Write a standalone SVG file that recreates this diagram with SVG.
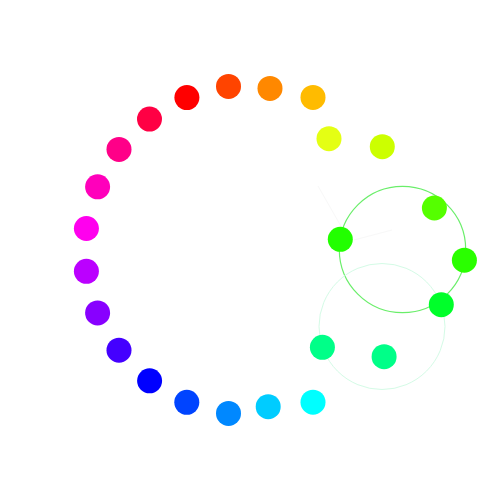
<svg xmlns="http://www.w3.org/2000/svg" width="500" height="500" viewBox="0 0 500 500">
<style>
.dot{stroke:none}
.ring{fill:none}
</style>
<rect width="500" height="500" fill="#ffffff"/>
<g id="connectors">
<circle class="ring" cx="402.5" cy="249.5" r="63.2" stroke="#6aee6a" stroke-width="1.2"/>
<circle class="ring" cx="382" cy="326.5" r="63" stroke="#d4fbe6" stroke-width="1"/>
<path d="M318,186 L342,228 M354,240 L392,230" stroke="#f8f8f8" stroke-width="1" fill="none"/>
</g>
<g id="n0"><circle class="dot" cx="186.9" cy="97.6" r="12.5" fill="#ff0000"/></g>
<g id="n1"><circle class="dot" cx="228.5" cy="86.4" r="12.5" fill="#ff4400"/></g>
<g id="n2"><circle class="dot" cx="270" cy="88.4" r="12.5" fill="#ff8800"/></g>
<g id="n3"><circle class="dot" cx="313" cy="97.4" r="12.5" fill="#ffbb00"/></g>
<g id="n4"><circle class="dot" cx="329" cy="138.7" r="12.5" fill="#e4ff14"/></g>
<g id="n5"><circle class="dot" cx="382.3" cy="146.7" r="12.5" fill="#ccff00"/></g>
<g id="n6"><circle class="dot" cx="434.4" cy="208" r="12.5" fill="#55ff00"/></g>
<g id="n7"><circle class="dot" cx="340.3" cy="239.3" r="12.5" fill="#22ff00"/></g>
<g id="n8"><circle class="dot" cx="464.4" cy="260.2" r="12.5" fill="#2aff00"/></g>
<g id="n9"><circle class="dot" cx="441.3" cy="304.7" r="12.5" fill="#00ff2a"/></g>
<g id="n10"><circle class="dot" cx="322.4" cy="347.3" r="12.5" fill="#00ff88"/></g>
<g id="n11"><circle class="dot" cx="384.1" cy="356.7" r="12.5" fill="#00ff88"/></g>
<g id="n12"><circle class="dot" cx="313" cy="402.2" r="12.5" fill="#00ffff"/></g>
<g id="n13"><circle class="dot" cx="268.2" cy="406.7" r="12.5" fill="#00ccff"/></g>
<g id="n14"><circle class="dot" cx="228.5" cy="413.4" r="12.5" fill="#0088ff"/></g>
<g id="n15"><circle class="dot" cx="186.8" cy="402.3" r="12.5" fill="#0044ff"/></g>
<g id="n16"><circle class="dot" cx="149.6" cy="380.8" r="12.5" fill="#0000ff"/></g>
<g id="n17"><circle class="dot" cx="119" cy="350.2" r="12.5" fill="#4400ff"/></g>
<g id="n18"><circle class="dot" cx="97.6" cy="312.9" r="12.5" fill="#8800ff"/></g>
<g id="n19"><circle class="dot" cx="86.4" cy="271.3" r="12.5" fill="#bb00ff"/></g>
<g id="n20"><circle class="dot" cx="86.4" cy="228.5" r="12.5" fill="#ff00ee"/></g>
<g id="n21"><circle class="dot" cx="97.6" cy="186.8" r="12.5" fill="#ff00bb"/></g>
<g id="n22"><circle class="dot" cx="119" cy="149.4" r="12.5" fill="#ff0088"/></g>
<g id="n23"><circle class="dot" cx="149.5" cy="119.1" r="12.5" fill="#ff0044"/></g>
</svg>
